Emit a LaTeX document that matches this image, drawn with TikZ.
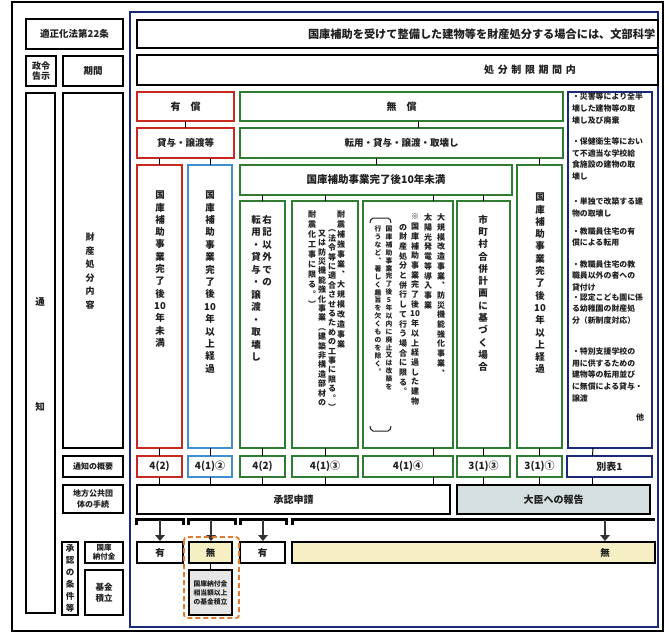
\documentclass[tikz,border=0pt]{standalone}
\usepackage{fontspec}
\setmainfont{Noto Sans CJK JP}
\usetikzlibrary{arrows.meta}
\definecolor{cred}{HTML}{C8281E}
\definecolor{cblue}{HTML}{3F8FD0}
\definecolor{cgreen}{HTML}{2E7D32}
\definecolor{cnavy}{HTML}{1B2A78}
\definecolor{corange}{HTML}{E07A2E}
\definecolor{cyellow}{HTML}{F6EFC4}
\definecolor{cgrayblue}{HTML}{D6DFE0}
\definecolor{ctext}{HTML}{202020}
\definecolor{cgrayfill}{HTML}{E6E6E6}
\makeatletter
\newcommand\vt[2][12pt]{\vbox{\baselineskip=#1\relax\lineskiplimit=-\maxdimen\lineskip=0pt\relax\vt@loop#2\vt@end}}
\def\vt@endm{\vt@end}
\def\vt@loop#1{\def\vt@item{#1}\ifx\vt@item\vt@endm\else\hbox to 1.2em{\hss#1\hss}\expandafter\vt@loop\fi}
\makeatother
\newcommand\fs[1]{\fontsize{#1}{#1}\selectfont\bfseries}
\newcommand\bx[7]{\node[#2, minimum width={(#5-#3)*1pt}, minimum height={(#6-#4)*1pt}] (#1) at ({(#3+#5)/2},{(#4+#6)/2}) {#7};}
\begin{document}
\begin{tikzpicture}[x=1pt,y=-1pt,
  every node/.style={inner sep=0pt, outer sep=0pt, text=ctext},
  lbox/.style={draw=black, line width=1.1pt, fill=white, align=center, font=\fs{8.5}},
  bbox/.style={draw=black, line width=1.1pt, fill=white, align=center, font=\fs{10}},
  rbox/.style={draw=cred, line width=1.7pt, fill=white, font=\fs{10}},
  blbox/.style={draw=cblue, line width=1.7pt, fill=white, font=\fs{10}},
  gbox/.style={draw=cgreen, line width=1.7pt, fill=white, font=\fs{10}},
  nbox/.style={draw=cnavy, line width=1.7pt, fill=white, font=\fs{10}},
  vtx/.style={anchor=north, font=\fs{9.5}},
  vts/.style={anchor=north, font=\fs{8}},
  vtt/.style={anchor=north, font=\fs{6.8}},
  ntx/.style={anchor=north west, align=left, font=\fontsize{7.9}{11.7}\selectfont\bfseries},
  conn/.style={draw=black, line width=1pt},
  brk/.style={draw=black, line width=3pt},
  arr/.style={draw=black!80, line width=2.8pt, -{Triangle[length=6pt,width=9.5pt]}, shorten >=1pt}
]
\useasboundingbox (0,0) rectangle (669,632);
\fill[white] (0,0) rectangle (669,632);
% frames
\draw[line width=2pt, black] (12,2) rectangle (663,631);
% left labels
\bx{L1}{lbox,font=\fs{9.5}}{26}{19}{123}{49}{適正化法第22条}
\bx{L2}{lbox,font=\fontsize{9}{10.5}\selectfont\bfseries}{26}{56}{56}{86}{政令\\告示}
\bx{L3}{lbox,font=\fs{9.5}}{63}{56}{123}{86}{期間}
\bx{L4}{lbox}{26}{93}{55}{613}{}
\node[font=\fs{9.5}] (L4a) at (40,302) {通};
\node[font=\fs{9.5}] (L4b) at (40,407) {知};
\bx{L5}{lbox}{63}{93}{123}{448}{}
\node[font=\fs{9}] (L5t) at (90,271) {\vt[13.6pt]{財産処分内容}};
\bx{L6}{lbox,font=\fs{8}}{63}{456}{123}{477}{通知の概要}
\bx{L7}{lbox,font=\fontsize{8}{10.5}\selectfont\bfseries}{63}{485}{123}{513}{地方公共団\\体の手続}
\bx{L8}{lbox}{62}{542}{78}{615}{}
\node[font=\fs{8.5}] (L8t) at (70,578) {\vt[12pt]{承認の条件等}};
\bx{L9}{lbox,font=\fontsize{7.5}{9}\selectfont\bfseries}{85}{542}{123}{563}{国庫\\納付金}
\bx{L10}{lbox,font=\fontsize{8.5}{11}\selectfont\bfseries}{85}{570}{123}{615}{基金\\積立}
% blue frame
\draw[line width=2.2pt, cnavy] (130,12) rectangle (658,627);
% top rows
\bx{R1}{bbox}{137}{20}{658}{48}{}
\node[anchor=west, font=\fs{11.2}] (R1t) at (308,34) {国庫補助を受けて整備した建物等を財産処分する場合には、文部科学};
\bx{R2}{bbox}{137}{55}{658}{85}{}
\node[font=\fs{10}] (R2t) at (530,70) {処\hspace{3.6pt}分\hspace{3.6pt}制\hspace{3.6pt}限\hspace{3.6pt}期\hspace{3.6pt}間\hspace{3.6pt}内};
% category boxes
\bx{yu}{rbox}{137}{92}{234}{121}{有　償}
\bx{mu}{gbox}{240}{92}{563}{121}{無　償}
\bx{nv}{nbox}{568}{92}{652}{448}{}
\bx{ky}{rbox,font=\fs{9.5}}{137}{128}{234}{158}{貸与・譲渡等}
\bx{tk}{gbox,font=\fs{9.5}}{240}{128}{563}{158}{転用・貸与・譲渡・取壊し}
\bx{c1}{rbox}{137}{165}{182}{448}{}
\bx{c2}{blbox}{188}{165}{232}{448}{}
\bx{m10}{gbox,font=\fs{10.5}}{240}{165}{512}{195}{国庫補助事業完了後10年未満}
\bx{c7}{gbox}{517}{165}{562}{448}{}
\bx{c3}{gbox}{240}{201}{285}{448}{}
\bx{c4}{gbox}{292}{201}{358}{448}{}
\bx{c5}{gbox}{363}{201}{453}{448}{}
\bx{c6}{gbox}{457}{201}{510}{448}{}
% vertical texts
\node[vtx] (t1) at (160,191) {\vt[12.3pt]{国庫補助事業完了後{10}年未満}};
\node[vtx] (t2) at (210,191) {\vt[12.4pt]{国庫補助事業完了後{10}年以上経過}};
\node[vtx] (t3a) at (267,215) {\vt[12.5pt]{右記以外での}};
\node[vtx] (t3b) at (256,215) {\vt[12.5pt]{転用・貸与・譲渡・取壊し}};
\node[vts] (t4a) at (341,211) {\vt[10pt]{耐震補強事業︑大規模改造事業}};
\node[vts] (t4b) at (332,230) {\vt[9.4pt]{︵法令等に適合させるための工事に限る︒︶}};
\node[vts] (t4c) at (322,230) {\vt[9.4pt]{又は防災機能強化事業︵建築非構造部材の}};
\node[vts] (t4d) at (312,211) {\vt[10pt]{耐震化工事に限る︒︶}};
\node[vts] (t5a) at (441,214) {\vt[9.7pt]{大規模改造事業︑防災機能強化事業︑}};
\node[vts] (t5b) at (428,214) {\vt[9.7pt]{太陽光発電等導入事業}};
\node[vts] (t5c) at (415,214) {\vt[9.7pt]{※国庫補助事業完了後{10}年以上経過した建物}};
\node[vts] (t5d) at (403,224) {\vt[9.7pt]{の財産処分と併行して行う場合に限る︒}};
\node[vtt] (t5e) at (389,226) {\vt[7.9pt]{国庫補助事業完了後{5}年以内に廃止又は改築を}};
\node[vtt] (t5f) at (378,226) {\vt[7.9pt]{行うなど︑著しく趣旨を欠くものを除く︒}};
\draw[line width=1pt, ctext, rounded corners=2pt] (370,223) -- (371,218) -- (390,218) -- (391,223);
\draw[line width=1pt, ctext, rounded corners=2pt] (370,426) -- (371,431) -- (390,431) -- (391,426);
\node[vtx] (t6) at (483,215) {\vt[12.3pt]{市町村合併計画に基づく場合}};
\node[vtx] (t7) at (540,193) {\vt[12.3pt]{国庫補助事業完了後{10}年以上経過}};
% navy column list
\node[ntx] (nb1) at (572,93) {・災害等により全半\\壊した建物等の取\\壊し及び廃棄};
\node[ntx] (nb2) at (572,137.5) {・保健衛生等におい\\て不適当な学校給\\食施設の建物の取\\壊し};
\node[ntx] (nb3) at (572,197.5) {・単独で改築する建\\物の取壊し};
\node[ntx] (nb4) at (572,227.5) {・教職員住宅の有\\償による転用};
\node[ntx] (nb5) at (572,260.5) {・教職員住宅の教\\職員以外の者への\\貸付け};
\node[ntx] (nb6) at (572,293.5) {・認定こども園に係\\る幼稚園の財産処\\分（新制度対応）};
\node[ntx] (nb7) at (572,347.5) {・特別支援学校の\\用に供するための\\建物等の転用並び\\に無償による貸与・\\譲渡};
\node[font=\fs{8}] (nb8) at (640,417) {他};
% notification row
\bx{n1}{rbox}{137}{456}{182}{477}{4(2)}
\bx{n2}{blbox}{188}{456}{232}{477}{4(1)②}
\bx{n3}{gbox}{240}{456}{285}{477}{4(2)}
\bx{n4}{gbox}{292}{456}{358}{477}{4(1)③}
\bx{n5}{gbox}{363}{456}{453}{477}{4(1)④}
\bx{n6}{gbox}{457}{456}{510}{477}{3(1)③}
\bx{n7}{gbox}{517}{456}{562}{477}{3(1)①}
\bx{n8}{nbox}{567}{456}{652}{477}{別表1}
\bx{ap}{bbox}{137}{485}{450}{514}{承認申請}
\bx{dr}{bbox,fill=cgrayblue}{457}{485}{650}{514}{大臣への報告}
% results
\bx{s1}{bbox,font=\fs{9.5}}{137}{542}{183}{563}{有}
\bx{s2}{bbox,fill=cyellow,font=\fs{9.5}}{189}{542}{232}{563}{無}
\bx{s3}{bbox,font=\fs{9.5}}{240}{542}{285}{563}{有}
\bx{s4}{bbox,fill=cyellow}{292}{542}{655}{563}{}
\node[font=\fs{9.5}] (s4t) at (605,553) {無};
\bx{kk}{bbox,fill=cgrayfill,font=\fontsize{6.8}{9}\selectfont\bfseries}{189}{570}{232}{615}{国庫納付金\\相当額以上\\の基金積立}
% connectors
\draw[conn] (yu.south) -- (ky.north);
\draw[conn] ([xshift=16.5pt]mu.south) -- ([xshift=16.5pt]tk.north);
\draw[conn] (m10.north) -- (m10.north |- tk.south);
\draw[conn] (c7.north) -- (c7.north |- tk.south);
\draw[conn] (c1.north) -- (c1.north |- ky.south);
\draw[conn] (c2.north) -- (c2.north |- ky.south);
\draw[conn] (c3.north) -- (c3.north |- m10.south);
\draw[conn] (c4.north) -- (c4.north |- m10.south);
\draw[conn] ([xshift=25pt]c5.north) -- ([xshift=25pt]c5.north |- m10.south);
\draw[conn] (c6.north) -- (c6.north |- m10.south);
\draw[conn] (c1.south) -- (n1.north);
\draw[conn] (c2.south) -- (n2.north);
\draw[conn] (c3.south) -- (n3.north);
\draw[conn] (c4.south) -- (n4.north);
\draw[conn] ([xshift=25pt]c5.south) -- ([xshift=25pt]n5.north);
\draw[conn] (c6.south) -- (n6.north);
\draw[conn] (c7.south) -- (n7.north);
\draw[conn] ([xshift=-17pt]nv.south) -- ([xshift=-17pt]n8.north);
\draw[conn] (n1.south) -- (n1.south |- ap.north);
\draw[conn] (n2.south) -- (n2.south |- ap.north);
\draw[conn] (n3.south) -- (n3.south |- ap.north);
\draw[conn] (n4.south) -- (n4.south |- ap.north);
\draw[conn] ([xshift=25pt]n5.south) -- ([xshift=25pt]n5.south |- ap.north);
\draw[conn] (n6.south) -- (n6.south |- dr.north);
\draw[conn] (n7.south) -- (n7.south |- dr.north);
\draw[conn] ([xshift=-17pt]n8.south) -- ([xshift=-17pt]n8.south |- dr.north);
\draw[conn] (s2.south) -- (kk.north);
% brackets and arrows
\draw[brk] (136,525) -- (136,519) -- (183,519) -- (183,525);
\draw[brk] (188,525) -- (188,519) -- (235,519) -- (235,525);
\draw[brk] (240,525) -- (240,519) -- (286,519) -- (286,525);
\draw[brk] (292,525) -- (292,519) -- (655,519);
\coordinate (a1) at (160,520);
\coordinate (a2) at (211,520);
\coordinate (a3) at (263,520);
\coordinate (a4) at (605,520);
\draw[arr] (a1) -- (a1 |- s1.north);
\draw[arr] (a2) -- (a2 |- s2.north);
\draw[arr] (a3) -- (a3 |- s3.north);
\draw[arr] (a4) -- (a4 |- s4.north);
% orange dashed group
\draw[corange, line width=1.8pt, dash pattern=on 5pt off 3pt, rounded corners=3pt] (184,537) rectangle (239,618);
\end{tikzpicture}
\end{document}
